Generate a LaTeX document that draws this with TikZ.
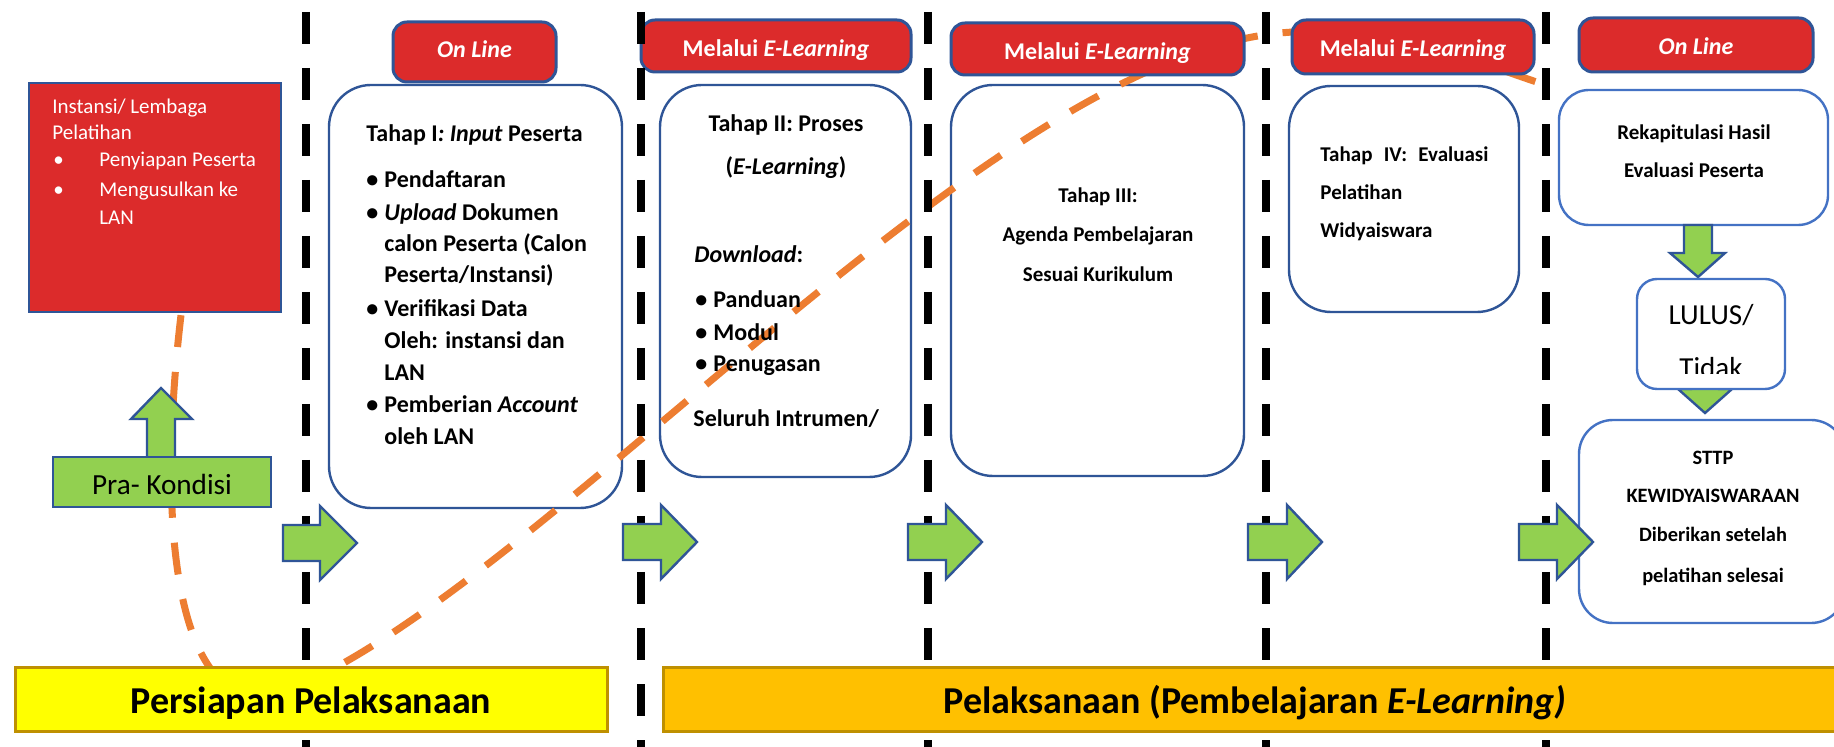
\documentclass[tikz,border=0pt]{standalone}
\usepackage{fontspec}
\setmainfont{Carlito}

\definecolor{boxblue}{HTML}{2F5597}
\definecolor{lightblue}{HTML}{4472C4}
\definecolor{tabred}{HTML}{DC2B2B}
\definecolor{arrowgreen}{HTML}{92D050}
\definecolor{curveorange}{HTML}{ED7D31}
\definecolor{baryellow}{HTML}{FFFF00}
\definecolor{barorange}{HTML}{FFC000}
\definecolor{bargold}{HTML}{BF9000}

\newcommand{\butir}{\makebox[9pt][l]{\textbullet}}

\begin{document}
\begin{tikzpicture}[x=0.5pt,y=-0.5pt,
  tahap/.style={draw=boxblue,line width=1.2pt,fill=white,rounded corners=21pt,inner sep=0pt},
  hasil/.style={draw=lightblue,line width=1.2pt,fill=white,inner sep=0pt},
  tab/.style={draw=boxblue,line width=1.5pt,fill=tabred,rounded corners=7pt,inner sep=0pt},
  bar/.style={draw=bargold,line width=1.5pt,inner sep=0pt},
  block/.style={draw=boxblue,line width=1.2pt,fill=arrowgreen},
  sekat/.style={line width=3.6pt,dash pattern=on 16pt off 12pt},
  isi/.style={font=\fontsize{12}{14}\selectfont\bfseries,anchor=base west,inner sep=0pt},
  isitengah/.style={isi,anchor=base},
  isikecil/.style={font=\fontsize{10.5}{12}\selectfont\bfseries,anchor=base west,inner sep=0pt},
  kecilttengah/.style={isikecil,anchor=base},
  putih/.style={text=white,font=\fontsize{10.5}{12}\selectfont,anchor=base west,inner sep=0pt},
  tabtext/.style={text=white,font=\fontsize{12}{14}\selectfont\bfseries,anchor=base,inner sep=0pt},
  bartext/.style={font=\fontsize{19}{22}\selectfont\bfseries,anchor=base,inner sep=0pt}]

  \useasboundingbox[fill=white] (0,0) rectangle (1834,747);

  % tahap boxes
  \node[tahap,minimum width=146.5pt,minimum height=211.5pt] (t1) at (475.5,296.5) {};
  \node[tahap,minimum width=125.5pt,minimum height=196pt] (t2) at (785.5,281) {};
  \node[tahap,minimum width=146.5pt,minimum height=195.5pt] (t3) at (1097.5,280.5) {};
  \node[tahap,minimum width=115pt,minimum height=113pt] (t4) at (1404,199) {};
  \node[hasil,rounded corners=15pt,minimum width=134.5pt,minimum height=67.5pt] (rekap) at (1693.5,157.5) {};
  \node[draw=boxblue,line width=1.2pt,fill=tabred,inner sep=0pt,minimum width=126pt,minimum height=114.5pt] (inst) at (155,197.5) {};

  % alur
  \draw[curveorange,line width=3.5pt,dash pattern=on 16pt off 12.5pt]
    ([xshift=13pt,yshift=-1pt]inst.south) .. controls (165,450) and (165,600) .. (208,665)
    .. controls (240,715) and (290,700) .. (340,665)
    .. controls (600,520) and (1000,60) .. (1280,33)
    .. controls (1400,22) and (1470,62) .. (rekap.north west);

  % tabs
  \node[tab,minimum width=81.5pt,minimum height=30pt] (online1) at (474.5,52) {};
  \node[tab,minimum width=135pt,minimum height=26pt] (melalui1) at (776,46) {};
  \node[tab,minimum width=146.5pt,minimum height=26pt] (melalui2) at (1097.5,49) {};
  \node[tab,minimum width=121pt,minimum height=27pt] (melalui3) at (1413,47) {};
  \node[tab,minimum width=117pt,minimum height=27pt] (online2) at (1696,45) {};
  \node[tabtext] (ol1) at (474.5,58) {\textit{On Line}};
  \node[tabtext] (ml1) at (776,57) {Melalui \textit{E-Learning}};
  \node[tabtext] (ml2) at (1097.5,60) {Melalui \textit{E-Learning}};
  \node[tabtext] (ml3) at (1413,57) {Melalui \textit{E-Learning}};
  \node[tabtext] (ol2) at (1696,55) {\textit{On Line}};

  % garis pemisah
  \draw[sekat] (306,12) -- (306,747);
  \draw[sekat] (641,12) -- (641,747);
  \draw[sekat] (928,12) -- (928,747);
  \draw[sekat] (1266,12) -- (1266,747);
  \draw[sekat] (1546,12) -- (1546,747);

  % pra kondisi
  \draw[block] (147,460) -- (147,419) -- (131,419) -- (161,388) -- (192,419) -- (175,419) -- (175,460) -- cycle;
  \node[draw=boxblue,line width=1.2pt,fill=arrowgreen,minimum width=109pt,minimum height=25pt,inner sep=0pt] (pra) at (162,482) {};
  \node[font=\fontsize{14.6}{17}\selectfont,anchor=base,inner sep=0pt] (pratxt) at (162,495) {Pra- Kondisi};

  % panah kanan
  \draw[block] (283,525) -- (320,525) -- (320,506) -- (357,543) -- (320,580) -- (320,561) -- (283,561) -- cycle;
  \draw[block] (623,524) -- (661,524) -- (661,505) -- (697,542) -- (661,579) -- (661,560) -- (623,560) -- cycle;
  \draw[block] (908,524) -- (946,524) -- (946,505) -- (982,542) -- (946,579) -- (946,560) -- (908,560) -- cycle;
  \draw[block] (1248,524) -- (1287,524) -- (1287,505) -- (1322,542) -- (1287,579) -- (1287,560) -- (1248,560) -- cycle;

  % hasil
  \draw[block] (1684,225) -- (1684,253) -- (1670,253) -- (1698,277) -- (1725,253) -- (1712,253) -- (1712,225) -- cycle;
  \draw[block] (1691,365) -- (1691,389) -- (1678,389) -- (1705,413) -- (1732,389) -- (1719,389) -- (1719,365) -- cycle;
  \node[hasil,rounded corners=10pt,minimum width=74pt,minimum height=55pt] (lulus) at (1711,334) {};
  \node[font=\fontsize{14.5}{17}\selectfont,anchor=base,inner sep=0pt] (lulus1) at (1711,325) {LULUS/};
  \begin{scope}
    \clip (1637,279) rectangle (1785,374);
    \node[font=\fontsize{14.5}{17}\selectfont,anchor=base,inner sep=0pt] (lulus2) at (1711,378) {Tidak};
  \end{scope}
  \node[hasil,rounded corners=17pt,minimum width=133pt,minimum height=101.5pt] (sttp) at (1712,521.5) {};
  \draw[block] (1519,524) -- (1557,524) -- (1557,505) -- (1593,542) -- (1557,579) -- (1557,560) -- (1519,560) -- cycle;

  % bars
  \node[bar,fill=baryellow,minimum width=296pt,minimum height=32pt] (persiapan) at (311,699) {};
  \node[bar,fill=barorange,minimum width=591.5pt,minimum height=32pt] (pelaksanaan) at (1254.5,699) {};
  \node[bartext] (persiapantxt) at (311,713) {Persiapan Pelaksanaan};
  \node[bartext] (pelaksanaantxt) at (1255,713) {Pelaksanaan (Pembelajaran \textit{E-Learning)}};

  % teks
  \node[putih] (inst1) at (52,114) {Instansi/ Lembaga};
  \node[putih] (inst2) at (52,140) {Pelatihan};
  \node[putih] (inst3) at (53,167) {\textbullet};
  \node[putih] (inst4) at (99,167) {Penyiapan Peserta};
  \node[putih] (inst5) at (53,197) {\textbullet};
  \node[putih] (inst6) at (99,197) {Mengusulkan ke};
  \node[putih] (inst7) at (99,225) {LAN};

  \node[isi] (t1a) at (366,142) {Tahap I\textit{: Input} Peserta};
  \node[isi] (t1b) at (366,188) {\butir Pendaftaran};
  \node[isi] (t1c) at (366,221) {\butir\textit{Upload} Dokumen};
  \node[isi] (t1d) at (384,252) {calon Peserta (Calon};
  \node[isi] (t1e) at (384,283) {Peserta/Instansi)};
  \node[isi] (t1f) at (366,317) {\butir Verifikasi Data};
  \node[isi] (t1g) at (384,349) {Oleh: instansi dan};
  \node[isi] (t1h) at (384,381) {LAN};
  \node[isi] (t1i) at (366,413) {\butir Pemberian \textit{Account}};
  \node[isi] (t1j) at (384,445) {oleh LAN};

  \node[isitengah] (t2a) at (786,132) {Tahap II: Proses};
  \node[isitengah] (t2b) at (786,175) {(\textit{E-Learning})};
  \node[isi] (t2c) at (694,263) {\textit{Download}:};
  \node[isi] (t2d) at (695,308) {\butir Panduan};
  \node[isi] (t2e) at (695,341) {\butir Modul};
  \node[isi] (t2f) at (695,372) {\butir Penugasan};
  \node[isi] (t2g) at (693,427) {Seluruh Intrumen/};

  \node[kecilttengah] (t3a) at (1098,203) {Tahap III:};
  \node[kecilttengah] (t3b) at (1098,242) {Agenda Pembelajaran};
  \node[kecilttengah] (t3c) at (1098,282) {Sesuai Kurikulum};

  \node[isikecil] (t4a) at (1320,162) {\makebox[84pt][s]{Tahap IV: Evaluasi}};
  \node[isikecil] (t4b) at (1320,200) {Pelatihan};
  \node[isikecil] (t4c) at (1320,238) {Widyaiswara};

  \node[kecilttengah] (rk1) at (1694,140) {Rekapitulasi Hasil};
  \node[kecilttengah] (rk2) at (1694,178) {Evaluasi Peserta};

  \node[kecilttengah,font=\fontsize{10.2}{12}\selectfont\bfseries] (st1) at (1713,465) {STTP};
  \node[kecilttengah,font=\fontsize{10.2}{12}\selectfont\bfseries] (st2) at (1713,503) {KEWIDYAISWARAAN};
  \node[kecilttengah,font=\fontsize{10.2}{12}\selectfont\bfseries] (st3) at (1713,542) {Diberikan setelah};
  \node[kecilttengah,font=\fontsize{10.2}{12}\selectfont\bfseries] (st4) at (1713,582) {pelatihan selesai};
\end{tikzpicture}
\end{document}
